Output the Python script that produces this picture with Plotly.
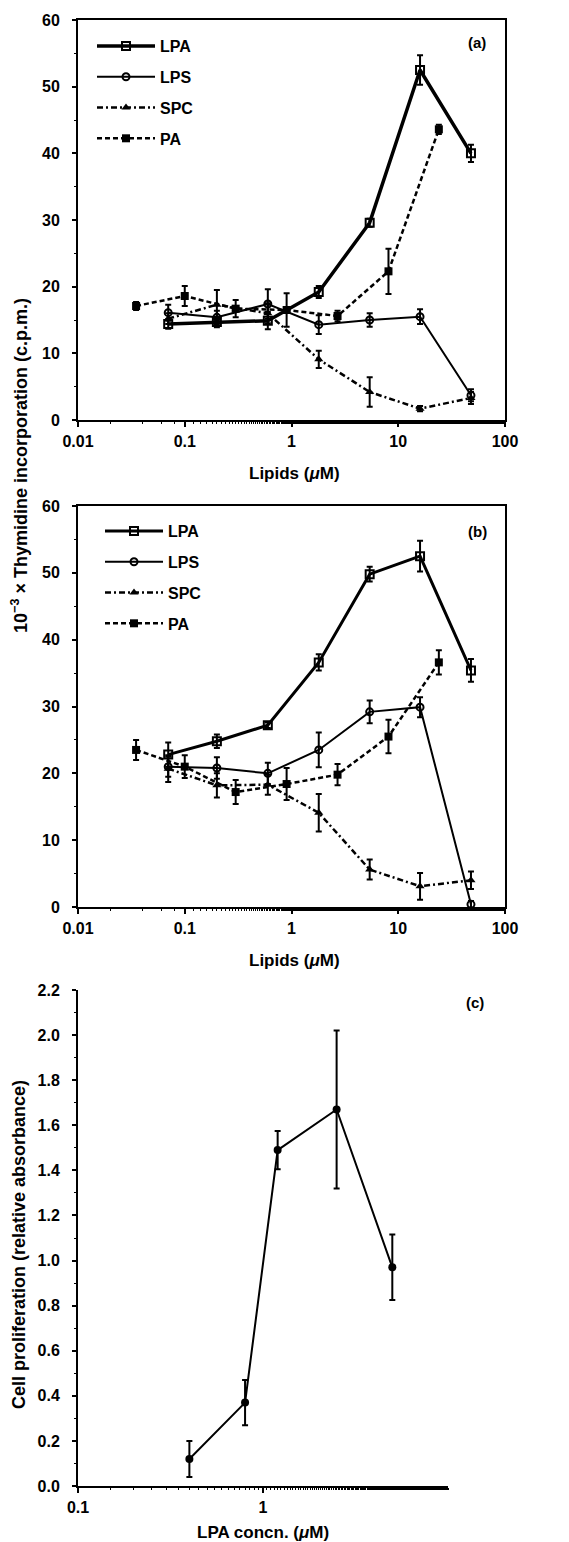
import plotly.graph_objects as go

# screenshot window; the page body adds an 8 px margin around the figure
WIN_W, WIN_H = 569, 1542
OFF = 8
W, H = WIN_W - OFF, WIN_H - OFF

# ---------------- data ----------------
# Panel (a)
a_x = [0.07, 0.2, 0.6, 1.8, 5.4, 16, 48]
a_pa_x = [0.035, 0.1, 0.3, 0.9, 2.7, 8.1, 24]
a_lpa_y = [14.4, 14.7, 14.9, 19.2, 29.6, 52.5, 40.0]
a_lpa_e = [0.7, 0.8, 1.3, 0.9, 0.6, 2.2, 1.3]
a_lps_y = [16.1, 15.4, 17.4, 14.3, 15.0, 15.5, 3.7]
a_lps_e = [1.2, 1.0, 2.2, 1.4, 1.0, 1.1, 0.9]
a_spc_y = [15.2, 17.3, 16.0, 9.1, 4.2, 1.7, 3.3]
a_spc_e = [0.8, 2.2, 1.5, 1.3, 2.2, 0.4, 0.9]
a_pa_y = [17.1, 18.6, 16.7, 16.5, 15.6, 22.3, 43.6]
a_pa_e = [0.6, 1.5, 1.3, 2.5, 0.8, 3.4, 0.7]

# Panel (b)
b_x = [0.07, 0.2, 0.6, 1.8, 5.4, 16, 48]
b_pa_x = [0.035, 0.1, 0.3, 0.9, 2.7, 8.1, 24]
b_lpa_y = [22.8, 24.8, 27.2, 36.6, 49.8, 52.5, 35.4]
b_lpa_e = [1.8, 1.0, 0.4, 1.2, 1.1, 2.3, 1.7]
b_lps_y = [21.0, 20.8, 20.0, 23.5, 29.2, 29.9, 0.4]
b_lps_e = [1.5, 1.6, 1.6, 2.6, 1.7, 1.5, 0.5]
b_spc_y = [20.7, 18.2, 18.3, 14.1, 5.6, 3.1, 4.0]
b_spc_e = [2.0, 1.8, 1.5, 2.8, 1.5, 2.0, 1.3]
b_pa_y = [23.5, 21.0, 17.2, 18.4, 19.8, 25.5, 36.6]
b_pa_e = [1.5, 1.7, 1.8, 2.4, 1.6, 2.5, 1.8]

# Panel (c)
c_x = [0.4, 0.8, 1.2, 2.5, 5.0]
c_y = [0.12, 0.37, 1.49, 1.67, 0.97]
c_e = [0.08, 0.10, 0.085, 0.35, 0.145]

x_ticks_ab = [0.01, 0.1, 1, 10, 100]
x_ticktext_ab = ["0.01", "0.1", "1", "10", "100"]
x_ticks_c = [0.1, 1]
x_ticktext_c = ["0.1", "1"]

FONT = "Liberation Sans"
BLACK = "black"


def px_x(p):
    return (p - OFF) / W


def px_y(p):
    return 1 - (p - OFF) / H


styles = {
    "LPA": dict(dash="solid", symbol="square-open", size=8, mlw=2),
    "LPS": dict(dash="solid", symbol="circle-open", size=7, mlw=2),
    "SPC": dict(dash="6px,3px,2px,3px", symbol="triangle-up", size=8, mlw=0),
    "PA": dict(dash="5px,3px", symbol="square", size=8, mlw=0),
}

fig = go.Figure()


def add_series(name, x, y, e, xa, ya, legend, lw):
    s = styles[name]
    fig.add_trace(go.Scatter(
        x=x, y=y, mode="lines+markers", name=name,
        xaxis=xa, yaxis=ya, legend=legend, legendgroup=legend + name,
        line=dict(color=BLACK, width=lw, dash=s["dash"]),
        marker=dict(symbol=s["symbol"], size=s["size"], color=BLACK,
                    line=dict(color=BLACK, width=s["mlw"])),
        error_y=dict(type="data", array=e, visible=True, color=BLACK,
                     thickness=2, width=3),
        cliponaxis=False,
    ))


add_series("LPA", a_x, a_lpa_y, a_lpa_e, "x", "y", "legend", 3.5)
add_series("LPS", a_x, a_lps_y, a_lps_e, "x", "y", "legend", 2)
add_series("SPC", a_x, a_spc_y, a_spc_e, "x", "y", "legend", 2.5)
add_series("PA", a_pa_x, a_pa_y, a_pa_e, "x", "y", "legend", 2.5)

add_series("LPA", b_x, b_lpa_y, b_lpa_e, "x2", "y2", "legend2", 3)
add_series("LPS", b_x, b_lps_y, b_lps_e, "x2", "y2", "legend2", 2)
add_series("SPC", b_x, b_spc_y, b_spc_e, "x2", "y2", "legend2", 2.5)
add_series("PA", b_pa_x, b_pa_y, b_pa_e, "x2", "y2", "legend2", 2.5)

fig.add_trace(go.Scatter(
    x=c_x, y=c_y, mode="lines+markers", showlegend=False,
    xaxis="x3", yaxis="y3",
    line=dict(color=BLACK, width=2),
    marker=dict(symbol="circle", size=8, color=BLACK),
    error_y=dict(type="data", array=c_e, visible=True, color=BLACK,
                 thickness=2, width=3),
    cliponaxis=False,
))

tickfont = dict(family=FONT, size=16, color=BLACK, weight="bold")


def xaxis_common(domain, anchor, ticks, text, rng, mirror):
    return dict(
        domain=domain, anchor=anchor, type="log", range=rng, automargin=False,
        tickvals=ticks, ticktext=text, tickfont=tickfont,
        showline=True, linewidth=2, linecolor=BLACK, mirror=mirror,
        ticks="outside", ticklen=5, tickwidth=2, tickcolor=BLACK,
        minor=dict(ticks="outside", ticklen=2, tickwidth=1, tickcolor=BLACK, showgrid=False),
        showgrid=False, zeroline=False, ticklabelstandoff=1,
    )


def yaxis_common(domain, anchor, rng, dtick, mdtick, fmt, mirror):
    return dict(
        domain=domain, anchor=anchor, range=rng, dtick=dtick, tick0=0, automargin=False,
        tickformat=fmt, tickfont=tickfont,
        showline=True, linewidth=2, linecolor=BLACK, mirror=mirror,
        ticks="outside", ticklen=4, tickwidth=2, tickcolor=BLACK,
        minor=dict(dtick=mdtick, ticks="outside", ticklen=2, tickwidth=1, tickcolor=BLACK, showgrid=False),
        showgrid=False, zeroline=False, ticklabelstandoff=9,
    )


xd_ab = [px_x(78), px_x(505)]
xd_c = [px_x(78), px_x(448)]
yd_a = [px_y(420), px_y(20)]
yd_b = [px_y(907), px_y(506)]
yd_c = [px_y(1486), px_y(990)]

legend_common = dict(
    xanchor="left", yanchor="top", bgcolor="rgba(0,0,0,0)",
    font=dict(family=FONT, size=16, color=BLACK, weight="bold"),
    tracegroupgap=7, traceorder="grouped", itemwidth=58,
)

lab_font = dict(family=FONT, size=16, color=BLACK, weight="bold")


def ann(text, x, y, angle=0, size=16):
    return dict(text=text, x=px_x(x), y=px_y(y), xref="paper", yref="paper",
                xanchor="center", yanchor="middle", showarrow=False,
                textangle=angle, font=dict(lab_font, size=size))


fig.update_layout(
    template="none",
    width=W, height=H,
    margin=dict(l=0, r=0, t=0, b=0, autoexpand=False),
    paper_bgcolor="white", plot_bgcolor="white",
    showlegend=True,
    xaxis=xaxis_common(xd_ab, "y", x_ticks_ab, x_ticktext_ab, [-2, 2], True),
    yaxis=yaxis_common(yd_a, "x", [0, 60], 10, 5, "d", True),
    xaxis2=xaxis_common(xd_ab, "y2", x_ticks_ab, x_ticktext_ab, [-2, 2], True),
    yaxis2=yaxis_common(yd_b, "x2", [0, 60], 10, 5, "d", True),
    xaxis3=xaxis_common(xd_c, "y3", x_ticks_c, x_ticktext_c, [-1, 1], False),
    yaxis3=yaxis_common(yd_c, "x3", [0, 2.2], 0.2, 0.1, ".1f", False),
    legend=dict(x=px_x(92), y=px_y(29), **legend_common),
    legend2=dict(x=px_x(100), y=px_y(514), **legend_common),
    annotations=[
        ann("(a)", 477, 43, size=15),
        ann("(b)", 477, 531, size=15),
        ann("(c)", 475, 1002, size=15),
        ann("Lipids (<i>μ</i>M)", 294, 473, size=17),
        ann("Lipids (<i>μ</i>M)", 294, 960, size=17),
        ann("LPA concn. (<i>μ</i>M)", 263, 1532, size=17),
        ann("10<sup>−3</sup> × Thymidine incorporation (c.p.m.)", 19, 466, -90, size=18),
        ann("Cell proliferation (relative absorbance)", 19, 1245, -90, size=18),
    ],
)

fig.write_html("out.html")
